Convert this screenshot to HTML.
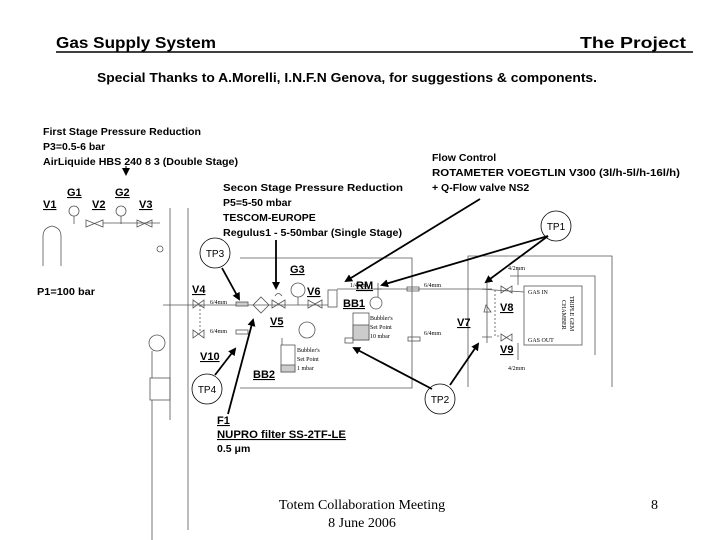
<!DOCTYPE html>
<html><head><meta charset="utf-8"><style>
html,body{margin:0;padding:0;background:#fff;}
svg{display:block}
.b{font-family:"Liberation Sans",sans-serif;font-weight:bold;font-size:10.5px;fill:#000}
.l{font-family:"Liberation Sans",sans-serif;font-weight:bold;font-size:11px;fill:#000;text-decoration:underline}
.s{font-family:"Liberation Serif",serif;font-size:6px;fill:#000}
.t{font-family:"Liberation Sans",sans-serif;font-size:10px;fill:#000}
</style></head><body>
<svg width="720" height="540" viewBox="0 0 720 540" xmlns="http://www.w3.org/2000/svg">
<defs><marker id="a" markerWidth="8" markerHeight="8" refX="6" refY="4" orient="auto" markerUnits="userSpaceOnUse"><path d="M0,0 L8,4 L0,8 z" fill="#000"/></marker></defs>
<text x="56" y="48" font-family="Liberation Sans,sans-serif" font-weight="bold" font-size="16" textLength="160" lengthAdjust="spacingAndGlyphs">Gas Supply System</text>
<text x="580" y="48" font-family="Liberation Sans,sans-serif" font-weight="bold" font-size="16" textLength="106" lengthAdjust="spacingAndGlyphs">The Project</text>
<line x1="56" y1="52" x2="693" y2="52" stroke="#000" stroke-width="1.5"/>
<text x="97" y="82" font-family="Liberation Sans,sans-serif" font-weight="bold" font-size="13" textLength="500" lengthAdjust="spacingAndGlyphs">Special Thanks to A.Morelli, I.N.F.N Genova, for suggestions &amp; components.</text>

<text class="b" x="43" y="135" textLength="158" lengthAdjust="spacingAndGlyphs">First Stage Pressure Reduction</text>
<text class="b" x="43" y="150">P3=0.5-6 bar</text>
<text class="b" x="43" y="165" textLength="195" lengthAdjust="spacingAndGlyphs">AirLiquide HBS 240 8 3 (Double Stage)</text>
<line x1="126" y1="166" x2="126" y2="174" stroke="#000" marker-end="url(#a)"/>

<text class="b" x="432" y="161">Flow Control</text>
<text class="b" x="432" y="176" textLength="248" lengthAdjust="spacingAndGlyphs">ROTAMETER VOEGTLIN V300 (3l/h-5l/h-16l/h)</text>
<text class="b" x="432" y="191">+ Q-Flow valve NS2</text>

<text class="b" x="223" y="191" textLength="180" lengthAdjust="spacingAndGlyphs">Secon Stage Pressure Reduction</text>
<text class="b" x="223" y="206">P5=5-50 mbar</text>
<text class="b" x="223" y="221">TESCOM-EUROPE</text>
<text class="b" x="223" y="236" textLength="179" lengthAdjust="spacingAndGlyphs">Regulus1 - 5-50mbar (Single Stage)</text>

<text class="l" x="43" y="208">V1</text>
<text class="l" x="67" y="196">G1</text>
<text class="l" x="92" y="208">V2</text>
<text class="l" x="115" y="196">G2</text>
<text class="l" x="139" y="208">V3</text>
<text class="b" x="37" y="295" textLength="58" lengthAdjust="spacingAndGlyphs">P1=100 bar</text>

<g stroke="#555" fill="none" stroke-width="0.8">
<path d="M43,266 V236 Q43,228 52,226 Q61,228 61,236 V266"/>
<circle cx="74" cy="211" r="5"/><line x1="74" y1="216" x2="74" y2="224"/>
<circle cx="121" cy="211" r="5"/><line x1="121" y1="216" x2="121" y2="224"/>
<path d="M86,220 L103,227 V220 L86,227 Z"/>
<path d="M137,220 L152,227 V220 L137,227 Z"/>
<line x1="103" y1="223" x2="160" y2="223"/>
<circle cx="160" cy="249" r="3"/>
<line x1="170" y1="208" x2="170" y2="420"/>
<line x1="188" y1="208" x2="188" y2="530"/>
<circle cx="157" cy="343" r="8"/>
<line x1="152" y1="351" x2="152" y2="378"/>
<rect x="150" y="378" width="20" height="22"/>
<line x1="152" y1="400" x2="152" y2="540"/>
<path d="M240,258 H412 V388 H240"/>
<path d="M468,387 V256 H612 V387"/>
<rect x="524" y="286" width="58" height="59"/>
<path d="M510,276 H595 V355"/>
<line x1="163" y1="305" x2="328" y2="305"/>
<line x1="337" y1="289" x2="480" y2="289"/>
<line x1="480" y1="289" x2="524" y2="292"/>
<path d="M193,300 L204,308 V300 L193,308 Z"/>
<path d="M193,330 L204,338 V330 L193,338 Z"/>
<line x1="200" y1="305" x2="200" y2="333" stroke-dasharray="2,2"/>
<rect x="236" y="302" width="12" height="4" fill="#ccc"/>
<rect x="236" y="330" width="12" height="4"/>
<path d="M253,305 L261,297 L269,305 L261,313 Z"/>
<path d="M272,300 L285,308 V300 L272,308 Z"/>
<path d="M275,296 Q278,291 282,296"/>
<circle cx="298" cy="290" r="7"/><line x1="298" y1="297" x2="298" y2="305"/>
<path d="M308,300 L322,308 V300 L308,308 Z"/>
<circle cx="307" cy="330" r="8"/>
<rect x="328" y="290" width="9" height="17"/>
<path d="M374,289 h8 M378,283 v14"/>
<circle cx="376" cy="303" r="6"/>
<rect x="353" y="313" width="16" height="27"/>
<rect x="353" y="325" width="16" height="15" fill="#ccc"/>
<rect x="345" y="338" width="8" height="5"/>
<rect x="281" y="345" width="14" height="27"/>
<rect x="281" y="365" width="14" height="7" fill="#ccc"/>
<line x1="282" y1="338" x2="282" y2="345"/>
<rect x="408" y="337" width="12" height="4"/>
<rect x="407" y="287" width="12" height="4"/>
<path d="M482,289 h10 M487,283 v12"/>
<path d="M482,337 h10 M487,331 v12"/>
<line x1="487" y1="295" x2="487" y2="331"/>
<path d="M486,305 L491,312 H484 Z"/>
<path d="M501,286 L512,293 V286 L501,293 Z"/>
<path d="M501,334 L512,341 V334 L501,341 Z"/>
<path d="M495,290 V336 H501" stroke-dasharray="2,2"/>
<line x1="518" y1="268" x2="518" y2="285"/>
<line x1="518" y1="360" x2="518" y2="343"/>
</g>
<g class="s">
<text x="210" y="304">6/4mm</text><text x="210" y="333">6/4mm</text>
<text x="350" y="287">1/4mm</text><text x="424" y="287">6/4mm</text>
<text x="424" y="335">6/4mm</text><text x="508" y="270">4/2mm</text>
<text x="508" y="370">4/2mm</text>
<text x="528" y="294">GAS IN</text><text x="528" y="342">GAS OUT</text>
<text x="370" y="320">Bubbler's</text><text x="370" y="329">Set Point</text><text x="370" y="338">10 mbar</text>
<text x="297" y="352">Bubbler's</text><text x="297" y="361">Set Point</text><text x="297" y="370">1 mbar</text>
<text transform="translate(570,296) rotate(90)">TRIPLE GEM</text>
<text transform="translate(562,300) rotate(90)">CHAMBER</text>
</g>
<text class="l" x="290" y="273">G3</text>
<text class="l" x="192" y="293">V4</text>
<text class="l" x="307" y="295">V6</text>
<text class="l" x="356" y="289">RM</text>
<text class="l" x="343" y="307">BB1</text>
<text class="l" x="270" y="325">V5</text>
<text class="l" x="457" y="326">V7</text>
<text class="l" x="500" y="311">V8</text>
<text class="l" x="500" y="353">V9</text>
<text class="l" x="200" y="360">V10</text>
<text class="l" x="253" y="378">BB2</text>

<g stroke="#000" fill="#fff" stroke-width="0.8">
<circle cx="215" cy="253" r="15"/><circle cx="556" cy="226" r="15"/>
<circle cx="207" cy="389" r="15"/><circle cx="440" cy="399" r="15"/>
</g>
<text class="t" x="215" y="257" text-anchor="middle">TP3</text>
<text class="t" x="556" y="230" text-anchor="middle">TP1</text>
<text class="t" x="207" y="393" text-anchor="middle">TP4</text>
<text class="t" x="440" y="403" text-anchor="middle">TP2</text>

<g stroke="#000" stroke-width="1.8" marker-end="url(#a)">
<line x1="480" y1="199" x2="346" y2="281"/>
<line x1="548" y1="236" x2="382" y2="285"/>
<line x1="548" y1="236" x2="486" y2="282"/>
<line x1="432" y1="389" x2="354" y2="348"/>
<line x1="450" y1="385" x2="478" y2="344"/>
<line x1="222" y1="268" x2="239" y2="299"/>
<line x1="276" y1="240" x2="276" y2="288"/>
<line x1="215" y1="375" x2="235" y2="349"/>
<line x1="228" y1="414" x2="253" y2="320"/>
</g>

<text class="l" x="217" y="424" font-size="10">F1</text>
<text class="l" x="217" y="438" font-size="10" textLength="129" lengthAdjust="spacingAndGlyphs">NUPRO filter SS-2TF-LE</text>
<text class="b" x="217" y="452">0.5 μm</text>

<text x="362" y="509" text-anchor="middle" font-family="Liberation Serif,serif" font-size="14">Totem Collaboration Meeting</text>
<text x="362" y="527" text-anchor="middle" font-family="Liberation Serif,serif" font-size="14">8 June 2006</text>
<text x="651" y="509" font-family="Liberation Serif,serif" font-size="14">8</text>
</svg>
</body></html>
